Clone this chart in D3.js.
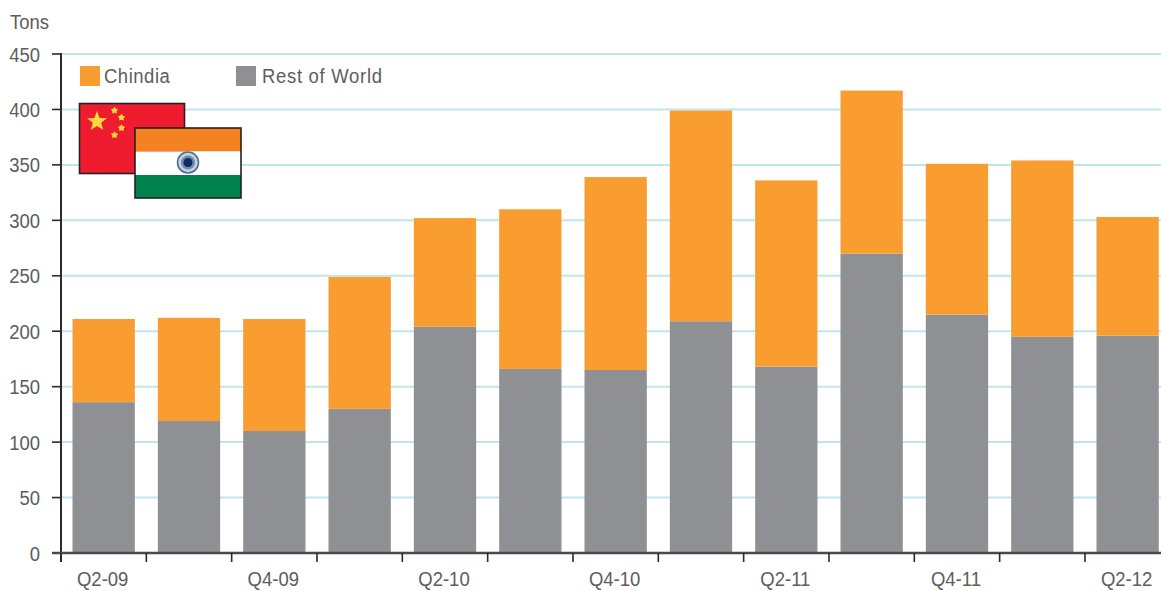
<!DOCTYPE html>
<html><head><meta charset="utf-8">
<script src="https://cdn.jsdelivr.net/npm/d3@7"></script>
<style>html,body{margin:0;padding:0;background:#fff;overflow:hidden}
text{font-family:"Liberation Sans",sans-serif;fill:#5c5d60;font-size:21px}</style>
</head><body><svg id="c" width="1161" height="591"></svg>
<script>
const quarters=["Q2-09","Q3-09","Q4-09","Q1-10","Q2-10","Q3-10","Q4-10","Q1-11","Q2-11","Q3-11","Q4-11","Q1-12","Q2-12"];
const tickLabels=["Q2-09","Q4-09","Q2-10","Q4-10","Q2-11","Q4-11","Q2-12"];
const restOfWorld=[136,119,110,130,204,166,165,209,168,270,215,195,196];
const chindia=[75,93,101,119,98,144,174,190,168,147,136,159,107];
const yTicks=[0,50,100,150,200,250,300,350,400,450];
const svg=d3.select("#c");
const x=d3.scaleBand().domain(quarters).range([61,1170.3]).paddingInner(0.27).paddingOuter(0.135);
const y=d3.scaleLinear().domain([0,450]).range([553,54]);
const step=x.step();
const colors={chindia:"#f99d31",rest:"#8f9093"};
const narrow=(sel,fx,fy,sx=0.88)=>sel.attr("transform",(d,i)=>`translate(${fx(d,i)},${fy(d,i)}) scale(${sx},1)`);
svg.append("g").selectAll("line").data(yTicks.filter(d=>d>0)).join("line")
 .attr("x1",61).attr("x2",1161).attr("y1",d=>y(d)).attr("y2",d=>y(d))
 .attr("stroke","#c0e5ee").attr("stroke-width",2);
const bars=svg.append("g");
bars.selectAll(".r").data(quarters).join("rect").attr("x",d=>x(d)).attr("width",x.bandwidth())
 .attr("y",(d,i)=>y(restOfWorld[i])).attr("height",(d,i)=>y(0)-y(restOfWorld[i])).attr("fill",colors.rest);
bars.selectAll(".c").data(quarters).join("rect").attr("x",d=>x(d)).attr("width",x.bandwidth())
 .attr("y",(d,i)=>y(restOfWorld[i]+chindia[i])).attr("height",(d,i)=>y(restOfWorld[i])-y(restOfWorld[i]+chindia[i])).attr("fill",colors.chindia);
const axisColor="#2b2b2d";
svg.append("line").attr("x1",61).attr("x2",61).attr("y1",y(450)-1).attr("y2",562).attr("stroke",axisColor).attr("stroke-width",2);
svg.append("g").selectAll("line").data(yTicks).join("line").attr("x1",52).attr("x2",61).attr("y1",d=>y(d)).attr("y2",d=>y(d)).attr("stroke",axisColor).attr("stroke-width",1.6);
narrow(svg.append("g").selectAll("text").data(yTicks).join("text").attr("text-anchor","end").text(d=>d),()=>40,d=>y(d)+7.5);
svg.append("line").attr("x1",52).attr("x2",1161).attr("y1",553).attr("y2",553).attr("stroke","#4a4a4c").attr("stroke-width",2.4);
svg.append("g").selectAll("line").data(quarters).join("line")
 .attr("x1",d=>x(d)-step*0.135).attr("x2",d=>x(d)-step*0.135).attr("y1",553).attr("y2",562)
 .attr("stroke",axisColor).attr("stroke-width",1.6);
narrow(svg.append("g").selectAll("text").data(tickLabels).join("text").attr("text-anchor","middle").style("font-size","19.5px").text(d=>d),d=>x(d)+x.bandwidth()/2-1,()=>585.5,0.95);
svg.append("text").attr("transform","translate(10,29) scale(0.88,1)").text("Tons");
svg.append("rect").attr("x",80).attr("y",66).attr("width",20).attr("height",20).attr("fill",colors.chindia);
svg.append("text").attr("transform","translate(104,83) scale(0.88,1)").attr("letter-spacing",0.6).text("Chindia");
svg.append("rect").attr("x",236).attr("y",66).attr("width",20).attr("height",20).attr("fill",colors.rest);
svg.append("text").attr("transform","translate(262,83) scale(0.88,1)").attr("letter-spacing",0.8).text("Rest of World");
function star(cx,cy,r,k){const p=[];for(let i=0;i<10;i++){const a=-Math.PI/2+i*Math.PI/5,q=i%2?r*k:r;p.push([cx+q*Math.cos(a),cy+q*Math.sin(a)]);}return "M"+p.join("L")+"Z";}
const f=svg.append("g");
f.append("rect").attr("x",79.5).attr("y",103.5).attr("width",105).attr("height",70).attr("fill","#ee1c2e").attr("stroke","#222").attr("stroke-width",1.6);
f.append("path").attr("d",star(97,121.5,10.5,0.42)).attr("fill","#fcd83a");
[[114.5,110.5],[121.5,117.5],[121.5,128],[114.5,135]].forEach(p=>f.append("path").attr("d",star(p[0],p[1],3.8,0.6)).attr("fill","#fcd83a"));
const g=svg.append("g");
g.append("rect").attr("x",135).attr("y",128).attr("width",106).attr("height",23.5).attr("fill","#f58220");
g.append("rect").attr("x",135).attr("y",151.5).attr("width",106).attr("height",23.5).attr("fill","#fff");
g.append("rect").attr("x",135).attr("y",175).attr("width",106).attr("height",23).attr("fill","#00824f");
g.append("rect").attr("x",135).attr("y",128).attr("width",106).attr("height",70).attr("fill","none").attr("stroke","#222").attr("stroke-width",1.6);
g.append("circle").attr("cx",188).attr("cy",162.5).attr("r",10.5).attr("fill","#c4d2e0").attr("stroke","#4f6f93").attr("stroke-width",1.6);
g.append("circle").attr("cx",188).attr("cy",162.5).attr("r",7).attr("fill","#6f8aa8");
g.append("circle").attr("cx",188).attr("cy",162.5).attr("r",4.5).attr("fill","#0c2c66");
</script></body></html>
